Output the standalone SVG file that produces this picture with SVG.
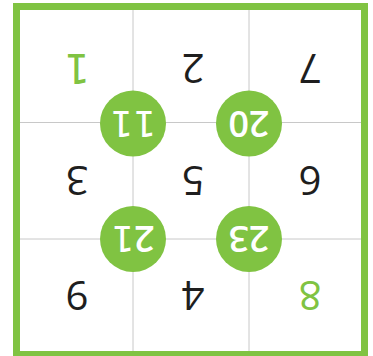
<svg xmlns="http://www.w3.org/2000/svg" width="373" height="356" viewBox="0 0 373 356">
<style>
.grid{stroke:#c8c8c8;stroke-width:1;fill:none}
.frame{fill:none;stroke:#80c342;stroke-width:7}
.d{font-family:"Open Sans","DejaVu Sans",sans-serif;font-size:40px;font-weight:500;text-anchor:middle;fill:#1e1e1e}
.g{fill:#80c342}
.c{fill:#80c342}
.ct{font-family:"Open Sans","DejaVu Sans",sans-serif;font-size:36px;font-weight:600;text-anchor:middle;fill:#ffffff}
.one{font-family:"DejaVu Sans",sans-serif;font-weight:normal}
</style>
<rect width="373" height="356" fill="#ffffff"/>
<g id="connectors">
<line class="grid" x1="133" y1="10" x2="133" y2="351"/>
<line class="grid" x1="249" y1="10" x2="249" y2="351"/>
<line class="grid" x1="20" y1="122.5" x2="361" y2="122.5"/>
<line class="grid" x1="20" y1="239" x2="361" y2="239"/>
</g>
<rect id="frame" class="frame" x="16.5" y="6.5" width="348" height="348"/>
<g id="cell-1"><text class="d g one" x="77" y="82" transform="rotate(180 77 68)">1</text></g>
<g id="cell-2"><text class="d" x="193" y="82" transform="rotate(180 193 68)">2</text></g>
<g id="cell-7"><text class="d" x="310" y="82" transform="rotate(180 310 68)">7</text></g>
<g id="cell-3"><text class="d" x="77" y="194" transform="rotate(180 77 180)">3</text></g>
<g id="cell-5"><text class="d" x="193" y="194" transform="rotate(180 193 180)">5</text></g>
<g id="cell-6"><text class="d" x="310" y="194" transform="rotate(180 310 180)">6</text></g>
<g id="cell-9"><text class="d" x="77" y="309" transform="rotate(180 77 295)">9</text></g>
<g id="cell-4"><text class="d" x="193" y="309" transform="rotate(180 193 295)">4</text></g>
<g id="cell-8"><text class="d g" x="310" y="309" transform="rotate(180 310 295)">8</text></g>
<g id="circle-11"><circle class="c" cx="133" cy="123.5" r="33"/><text class="ct one" x="133" y="136.5" transform="rotate(180 133 123.5)">11</text></g>
<g id="circle-20"><circle class="c" cx="249" cy="123.5" r="33"/><text class="ct" x="249" y="136.5" transform="rotate(180 249 123.5)">20</text></g>
<g id="circle-21"><circle class="c" cx="133" cy="239" r="33"/><text class="ct" x="133" y="252" transform="rotate(180 133 239)">2<tspan class="one">1</tspan></text></g>
<g id="circle-23"><circle class="c" cx="249" cy="239" r="33"/><text class="ct" x="249" y="252" transform="rotate(180 249 239)">23</text></g>
</svg>
